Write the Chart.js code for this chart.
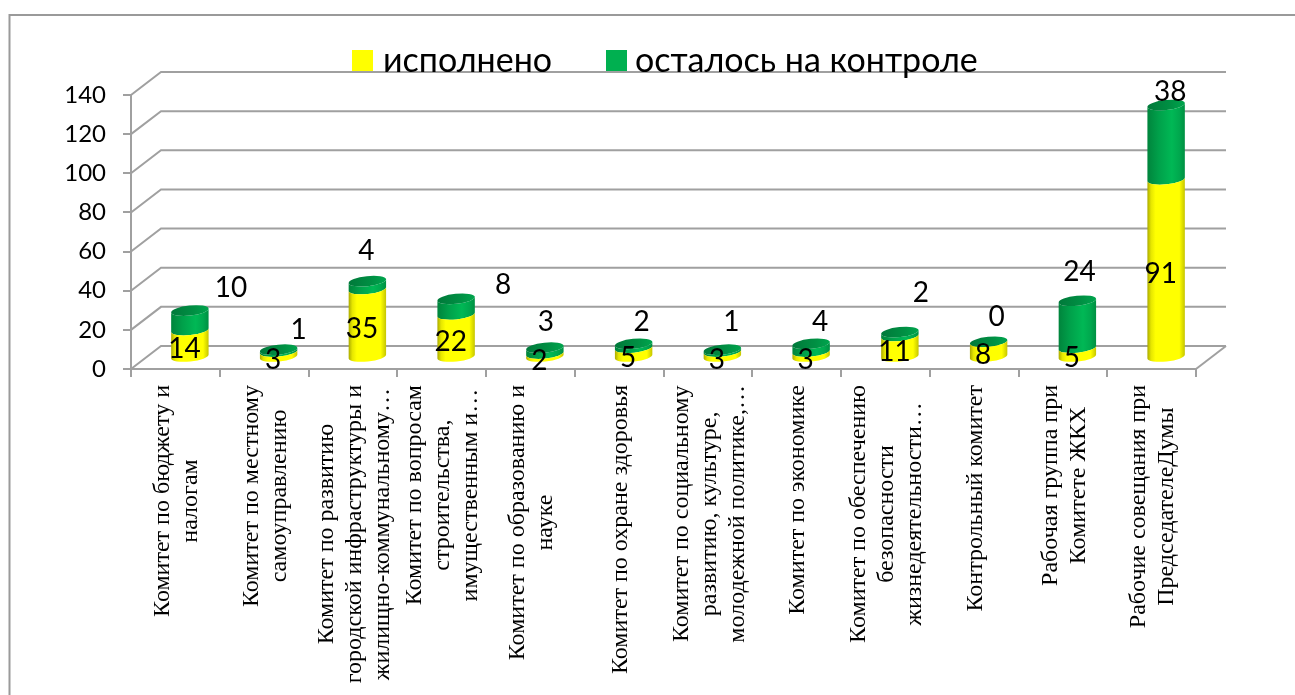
<!DOCTYPE html>
<html><head><meta charset="utf-8">
<script src="https://cdn.jsdelivr.net/npm/chart.js@4"></script>
<style>html,body{margin:0;padding:0;background:#fff}canvas{display:block}</style>
</head><body><canvas id="c" width="1295" height="695"></canvas>
<script>
const categories = [
  ["Комитет по бюджету и","налогам"],
  ["Комитет по местному","самоуправлению"],
  ["Комитет по развитию","городской инфраструктуры и","жилищно-коммунальному…"],
  ["Комитет по вопросам","строительства,","имущественным и…"],
  ["Комитет по образованию и","науке"],
  ["Комитет по охране здоровья"],
  ["Комитет по социальному","развитию, культуре,","молодежной политике,…"],
  ["Комитет по экономике"],
  ["Комитет по обеспечению","безопасности","жизнедеятельности…"],
  ["Контрольный комитет"],
  ["Рабочая группа при","Комитете ЖКХ"],
  ["Рабочие совещания при","ПредседателеДумы"]
];
const doneValues    = [14,3,35,22,2,5,3,3,11,8,5,91];
const controlValues = [10,1,4,8,3,2,1,4,2,0,24,38];
const seriesNames   = ["исполнено","осталось на контроле"];

// hand-placed label nudges of the top series, relative to its bar top (px)
const controlNudgeX = [41,20,-1,47,1,8,9,9,21,8,2,4];
const controlNudgeY = [-23,-20,-30,-14,-26,-22,-28,-22,-39,-25,-29,-13];

const GRID = '#a0a0a0', DX = 30, DY = -23, BX = 14.5, BY = -11.5;
const RY = 5, ROT = -6 * Math.PI / 180;

function bodyGradient(ctx, cx, w, stops) {
  const g = ctx.createLinearGradient(cx - w/2, 0, cx + w/2, 0);
  stops.forEach(s => g.addColorStop(s[0], s[1]));
  return g;
}
const YELLOW = [[0,'#a9a900'],[.1,'#e6e600'],[.22,'#ffff00'],[.85,'#ffff00'],[1,'#c4c400']];
const GREEN  = [[0,'#00843c'],[.3,'#00a04a'],[.65,'#00b855'],[.85,'#00a84e'],[1,'#008f42']];
const CAP    = [[0,'#00793a'],[.6,'#008f43'],[1,'#00a54d']];

class CylinderElement extends Chart.BarElement {
  draw(ctx) {
    const {x, y, base, width} = this.getProps(['x','y','base','width']);
    const cx = x + BX, top = y + BY, bot = base + BY, rx = width / 2;
    const isTop = this.options.capped;
    const stops = isTop ? GREEN : YELLOW;
    ctx.save();
    if (bot - top > 0.01) {
      ctx.beginPath();
      ctx.ellipse(cx, top, rx, RY, ROT, Math.PI, 0, true);
      ctx.ellipse(cx, bot, rx, RY, ROT, 0, Math.PI, false);
      ctx.closePath();
      ctx.fillStyle = bodyGradient(ctx, cx, width, stops);
      ctx.fill();
    }
    if (isTop) {
      ctx.beginPath();
      ctx.ellipse(cx, top, rx, RY, ROT, 0, Math.PI * 2);
      ctx.fillStyle = bodyGradient(ctx, cx, width, CAP);
      ctx.fill();
    }
    ctx.restore();
  }
}
CylinderElement.id = 'cylinder';
CylinderElement.defaults = Object.assign({}, Chart.BarElement.defaults, {capped: false});
class CylinderController extends Chart.BarController {}
CylinderController.id = 'cylinder';
CylinderController.defaults = Object.assign({}, Chart.BarController.defaults, {dataElementType: 'cylinder'});
CylinderController.overrides = Chart.BarController.overrides;
Chart.register(CylinderElement, CylinderController);

const walls = {
  id: 'walls',
  beforeDatasetsDraw(chart) {
    const {ctx, chartArea: a, scales: {y}, width, height} = chart;
    ctx.save();
    ctx.lineWidth = 2;
    ctx.strokeStyle = '#9a9a9a';
    ctx.beginPath();
    ctx.moveTo(9.5, height);
    ctx.lineTo(9.5, 15);
    ctx.lineTo(width, 15);
    ctx.stroke();
    ctx.strokeStyle = GRID;
    y.ticks.forEach(t => {
      const py = y.getPixelForValue(t.value);
      ctx.beginPath();
      ctx.moveTo(a.left, py);
      ctx.lineTo(a.left + DX, py + DY);
      ctx.lineTo(a.right + DX, py + DY);
      ctx.stroke();
    });
    ctx.beginPath();
    ctx.moveTo(a.right, a.bottom);
    ctx.lineTo(a.right + DX, a.bottom + DY);
    ctx.stroke();
    ctx.restore();
  }
};

const texts = {
  id: 'texts',
  afterDatasetsDraw(chart) {
    const {ctx, scales: {x}} = chart;
    ctx.save();
    ctx.fillStyle = '#000';
    // value labels
    ctx.font = '28px Lato';
    ctx.textAlign = 'center'; ctx.textBaseline = 'middle';
    const m0 = chart.getDatasetMeta(0).data, m1 = chart.getDatasetMeta(1).data;
    doneValues.forEach((v, i) => {
      const e = m0[i];
      ctx.fillText(String(v), e.x + BX - 5.5, (e.y + e.base) / 2 + BY + 6);
    });
    controlValues.forEach((v, i) => {
      const e = m1[i];
      ctx.fillText(String(v), e.x + BX + controlNudgeX[i], e.y + BY + controlNudgeY[i]);
    });
    // category labels: block top-aligned under the axis, lines centred in it
    ctx.font = '24px "Liberation Serif"';
    categories.forEach((lines, i) => {
      const px = x.getPixelForValue(i) + 1.5;
      const maxW = Math.max(...lines.map(l => ctx.measureText(l).width));
      const cy = 385 + maxW / 2;
      lines.forEach((l, k) => {
        ctx.save();
        ctx.translate(px + (k - (lines.length - 1) / 2) * 28, cy);
        ctx.rotate(-Math.PI / 2);
        ctx.fillText(l, 0, 0);
        ctx.restore();
      });
    });
    // legend
    ctx.font = '34px Lato';
    ctx.textAlign = 'left';
    const legendX = [352, 606];
    chart.data.datasets.forEach((d, i) => {
      ctx.fillStyle = i === 0 ? '#ffff00' : '#00b050';
      ctx.fillRect(legendX[i], 50, 21, 21);
      ctx.fillStyle = '#000';
      ctx.fillText(d.label, legendX[i] + (i === 0 ? 31 : 29), 61);
    });
    ctx.restore();
  }
};

new Chart(document.getElementById('c'), {
  type: 'cylinder',
  data: {
    labels: categories.map(l => l.join(' ')),
    datasets: [
      {label: seriesNames[0], data: doneValues, backgroundColor: '#ffff00', capped: false},
      {label: seriesNames[1], data: controlValues, backgroundColor: '#00b050', capped: true}
    ]
  },
  options: {
    responsive: false,
    animation: false,
    layout: {padding: {top: 95, right: 99, left: 0, bottom: 0}},
    categoryPercentage: 1,
    barPercentage: 0.424,
    plugins: {legend: {display: false}, tooltip: {enabled: false}},
    scales: {
      x: {
        stacked: true,
        afterFit(s) { s.height = 326; },
        ticks: {display: false},
        border: {color: GRID, width: 2},
        grid: {drawOnChartArea: false, drawTicks: true, tickLength: 8, color: GRID, lineWidth: 2}
      },
      y: {
        stacked: true, min: 0, max: 140,
        afterFit(s) { s.width = 131; },
        ticks: {stepSize: 20, color: '#000', font: {family: 'Lato', size: 24}, padding: 17},
        border: {color: GRID, width: 2},
        grid: {drawOnChartArea: false, drawTicks: true, tickLength: 8, color: GRID, lineWidth: 2}
      }
    }
  },
  plugins: [walls, texts]
});
</script></body></html>
